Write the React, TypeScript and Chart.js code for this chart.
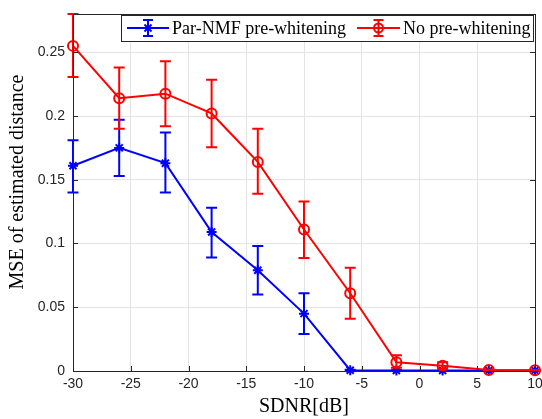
import React, { useEffect, useRef } from "react";
import { Chart, registerables } from "chart.js";

Chart.register(...registerables);

// ---- Data ----
const snrDb = [-30, -26, -22, -18, -14, -10, -6, -2, 2, 6, 10];

const parNmfMse = [0.161, 0.175, 0.163, 0.109, 0.079, 0.045, 0.0006, 0.0004, 0.0004, 0.0004, 0.0004];
const parNmfLow = [0.140, 0.153, 0.140, 0.089, 0.060, 0.029, 0.0003, 0.0002, 0.0002, 0.0002, 0.0002];
const parNmfHigh = [0.181, 0.197, 0.187, 0.128, 0.098, 0.061, 0.0009, 0.0006, 0.0006, 0.0006, 0.0006];

const noWhiteMse = [0.255, 0.214, 0.2175, 0.202, 0.164, 0.111, 0.061, 0.0068, 0.0042, 0.0008, 0.0006];
const noWhiteLow = [0.2305, 0.190, 0.192, 0.1755, 0.139, 0.0886, 0.041, 0.0026, 0.0016, 0.0005, 0.0004];
const noWhiteHigh = [0.280, 0.238, 0.243, 0.2285, 0.190, 0.133, 0.081, 0.0123, 0.0068, 0.0012, 0.0008];

const seriesNames = ["Par-NMF pre-whitening", "No pre-whitening"];
const xTicks = [-30, -25, -20, -15, -10, -5, 0, 5, 10];
const yTicks = [0, 0.05, 0.1, 0.15, 0.2, 0.25];
const xTitle = "SDNR[dB]";
const yTitle = "MSE of estimated distance";

const BLUE = "#0000ff";
const RED = "#ff0000";
const AXIS = "#262626";
const SERIF = '"Liberation Serif", "Times New Roman", serif';
const SANS = '"Liberation Sans", Arial, sans-serif';

const errorSets = [
  { low: parNmfLow, high: parNmfHigh, color: BLUE },
  { low: noWhiteLow, high: noWhiteHigh, color: RED },
];

const decor = {
  id: "matlabDecor",
  afterDatasetDraw(chart: any, args: any) {
    const es = errorSets[args.index];
    if (!es) return;
    const ctx = chart.ctx;
    const xs = chart.scales.x;
    const ys = chart.scales.y;
    ctx.save();
    ctx.strokeStyle = es.color;
    ctx.lineWidth = 2;
    for (let i = 0; i < snrDb.length; i++) {
      const x = xs.getPixelForValue(snrDb[i]);
      const yl = ys.getPixelForValue(es.low[i]);
      const yh = ys.getPixelForValue(es.high[i]);
      ctx.beginPath();
      ctx.moveTo(x, yl);
      ctx.lineTo(x, yh);
      ctx.moveTo(x - 5.5, yl);
      ctx.lineTo(x + 5.5, yl);
      ctx.moveTo(x - 5.5, yh);
      ctx.lineTo(x + 5.5, yh);
      ctx.stroke();
    }
    ctx.restore();
  },
  afterDraw(chart: any) {
    const ctx = chart.ctx;
    const a = chart.chartArea;
    const xs = chart.scales.x;
    const ys = chart.scales.y;
    ctx.save();
    // box
    ctx.strokeStyle = AXIS;
    ctx.lineWidth = 1;
    ctx.strokeRect(Math.round(a.left) + 0.5, Math.round(a.top) + 0.5, Math.round(a.right - a.left), Math.round(a.bottom - a.top));
    // inward ticks
    ctx.beginPath();
    for (const t of xTicks) {
      const x = Math.round(xs.getPixelForValue(t)) + 0.5;
      ctx.moveTo(x, a.bottom);
      ctx.lineTo(x, a.bottom - 5);
      ctx.moveTo(x, a.top);
      ctx.lineTo(x, a.top + 5);
    }
    for (const t of yTicks) {
      const y = Math.round(ys.getPixelForValue(t)) + 0.5;
      ctx.moveTo(a.left, y);
      ctx.lineTo(a.left + 5, y);
      ctx.moveTo(a.right, y);
      ctx.lineTo(a.right - 5, y);
    }
    ctx.stroke();

    // axis titles
    ctx.fillStyle = "#000";
    ctx.font = `20px ${SERIF}`;
    ctx.textAlign = "center";
    ctx.textBaseline = "middle";
    ctx.fillText(xTitle, (a.left + a.right) / 2, 407);
    ctx.save();
    ctx.translate(18, 182);
    ctx.rotate(-Math.PI / 2);
    ctx.fillText(yTitle, 0, 0);
    ctx.restore();

    // legend
    const lx = 121, ly = 15, lw = 412, lh = 26;
    ctx.fillStyle = "#fff";
    ctx.fillRect(lx, ly, lw, lh);
    ctx.strokeStyle = AXIS;
    ctx.lineWidth = 1;
    ctx.strokeRect(lx + 0.5, ly + 0.5, lw, lh);
    const cy = ly + lh / 2;
    const entries = [
      { x0: 127, x1: 169, tx: 172, color: BLUE, marker: "star", name: seriesNames[0] },
      { x0: 357, x1: 400, tx: 403, color: RED, marker: "circle", name: seriesNames[1] },
    ];
    for (const e of entries) {
      const mx = (e.x0 + e.x1) / 2;
      ctx.strokeStyle = e.color;
      ctx.lineWidth = 2;
      ctx.beginPath();
      ctx.moveTo(e.x0, cy);
      ctx.lineTo(e.x1, cy);
      ctx.moveTo(mx, cy - 8);
      ctx.lineTo(mx, cy + 8);
      ctx.moveTo(mx - 5, cy - 8);
      ctx.lineTo(mx + 5, cy - 8);
      ctx.moveTo(mx - 5, cy + 8);
      ctx.lineTo(mx + 5, cy + 8);
      ctx.stroke();
      ctx.beginPath();
      if (e.marker === "circle") {
        ctx.arc(mx, cy, 4.5, 0, Math.PI * 2);
      } else {
        const r = 5;
        ctx.moveTo(mx - r, cy); ctx.lineTo(mx + r, cy);
        ctx.moveTo(mx, cy - r); ctx.lineTo(mx, cy + r);
        const d = r * 0.707;
        ctx.moveTo(mx - d, cy - d); ctx.lineTo(mx + d, cy + d);
        ctx.moveTo(mx - d, cy + d); ctx.lineTo(mx + d, cy - d);
      }
      ctx.stroke();
      ctx.fillStyle = "#000";
      ctx.font = `18px ${SERIF}`;
      ctx.textAlign = "left";
      ctx.textBaseline = "middle";
      ctx.fillText(e.name, e.tx, cy + 1);
    }
    ctx.restore();
  },
};

function fmt(v: number) {
  return String(Number(v.toFixed(2)));
}

export default function App() {
  const ref = useRef<HTMLCanvasElement | null>(null);
  useEffect(() => {
    if (!ref.current) return;
    const toXY = (ys: number[]) => snrDb.map((x, i) => ({ x, y: ys[i] }));
    const chart = new Chart(ref.current, {
      type: "line",
      data: {
        datasets: [
          {
            label: seriesNames[0],
            data: toXY(parNmfMse),
            borderColor: BLUE,
            backgroundColor: BLUE,
            borderWidth: 2,
            pointStyle: "star",
            pointRadius: 5,
            pointBorderWidth: 2,
            pointBorderColor: BLUE,
            pointBackgroundColor: BLUE,
            tension: 0,
            order: 2,
            clip: false as any,
          },
          {
            label: seriesNames[1],
            data: toXY(noWhiteMse),
            borderColor: RED,
            backgroundColor: "transparent",
            borderWidth: 2,
            pointStyle: "circle",
            pointRadius: 5,
            pointBorderWidth: 2,
            pointBorderColor: RED,
            pointBackgroundColor: "rgba(0,0,0,0)",
            tension: 0,
            order: 1,
            clip: false as any,
          },
        ],
      },
      options: {
        responsive: false,
        animation: false,
        devicePixelRatio: 1,
        layout: { padding: { left: 0, top: 14, right: 7, bottom: 0 } },
        plugins: { legend: { display: false }, tooltip: { enabled: false } },
        scales: {
          x: {
            type: "linear",
            min: -30,
            max: 10,
            afterFit: (s: any) => { s.height = 48; s.paddingLeft = 0; s.paddingRight = 0; },
            afterBuildTicks: (s: any) => { s.ticks = xTicks.map((v) => ({ value: v })); },
            ticks: {
              color: AXIS,
              font: { family: SANS, size: 14 },
              padding: 5,
              maxRotation: 0,
              autoSkip: false,
              callback: (v: any) => String(v),
            },
            grid: { color: "#e4e4e4", drawTicks: false, lineWidth: 1 },
            border: { display: false },
          },
          y: {
            type: "linear",
            min: 0,
            max: 0.28,
            afterFit: (s: any) => { s.width = 73; s.paddingTop = 0; s.paddingBottom = 0; },
            afterBuildTicks: (s: any) => { s.ticks = yTicks.map((v) => ({ value: v })); },
            ticks: {
              color: AXIS,
              font: { family: SANS, size: 14 },
              padding: 8,
              autoSkip: false,
              callback: (v: any) => fmt(Number(v)),
            },
            grid: { color: "#e4e4e4", drawTicks: false, lineWidth: 1 },
            border: { display: false },
          },
        },
      },
      plugins: [decor],
    });
    return () => chart.destroy();
  }, []);
  return (
    <div style={{ position: "absolute", left: 0, top: 0, width: 542, height: 419, background: "#fff" }}>
      <canvas ref={ref} width={542} height={419} />
    </div>
  );
}
